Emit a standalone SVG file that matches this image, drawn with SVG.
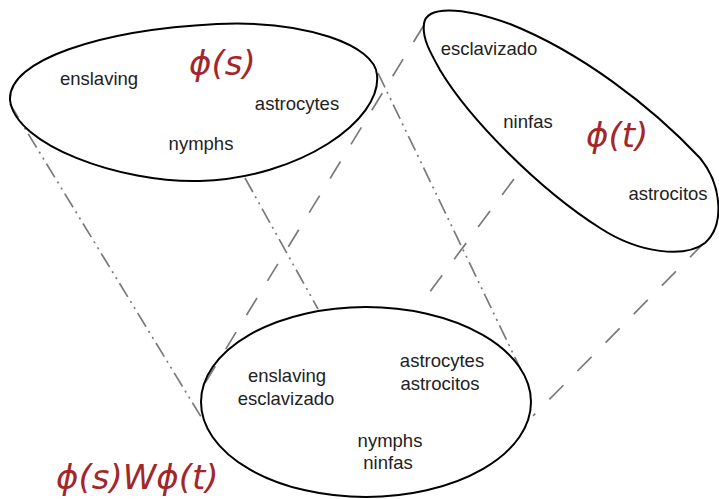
<svg xmlns="http://www.w3.org/2000/svg" width="719" height="499" viewBox="0 0 719 499">
  <style>
    .set { fill: none; stroke: #000000; stroke-width: 2; }
    .word { font-family: "Liberation Sans", Arial, sans-serif; font-size: 18.5px; fill: #222222; text-anchor: middle; }
    .math { font-family: "DejaVu Sans", sans-serif; font-style: oblique; font-size: 34px; fill: #a3262a; }
    .link { fill: none; stroke: #7a7a7a; stroke-width: 1.7; }
    .dashdot { stroke-dasharray: 16 5 2 5 2 5; }
    .dash { stroke-dasharray: 20 20; }
  </style>

  <!-- projection lines from the two word sets onto the joint set -->
  <g id="connectors">
    <line class="link dashdot" x1="10" y1="104" x2="203" y2="420"/>
    <line class="link dashdot" x1="245" y1="178" x2="318" y2="309"/>
    <line class="link dashdot" x1="378" y1="73" x2="521" y2="370"/>
    <line class="link dash" x1="424" y1="25" x2="205" y2="383"/>
    <line class="link dash" x1="514" y1="179" x2="420" y2="305"/>
    <line class="link dash" x1="704" y1="243" x2="533" y2="416"/>
  </g>

  <!-- English set -->
  <g id="set-s">
    <path class="set" d="M 10,100 C 8,60 100,30 217,24 C 305,20 375,45 377,75 C 382,120 300,178 200,181 C 120,183 15,145 10,100 Z"/>
    <text class="word" x="99" y="85">enslaving</text>
    <text class="word" x="297" y="110">astrocytes</text>
    <text class="word" x="201" y="150">nymphs</text>
    <text class="math" x="189" y="75">ϕ(s)</text>
  </g>

  <!-- Spanish set -->
  <g id="set-t">
    <path class="set" d="M 424,24 C 426,6 460,6 510,24 C 580,52 650,105 700,158 C 722,185 725,225 705,243 C 685,258 640,254 600,228 C 540,190 470,120 440,70 C 430,52 422,38 424,24 Z"/>
    <text class="word" x="489" y="55">esclavizado</text>
    <text class="word" x="528" y="128">ninfas</text>
    <text class="word" x="668" y="200">astrocitos</text>
    <text class="math" x="586" y="147">ϕ(t)</text>
  </g>

  <!-- joint set -->
  <g id="set-joint">
    <ellipse class="set" cx="366" cy="402" rx="165" ry="95"/>
    <text class="word" x="287" y="382">enslaving</text>
    <text class="word" x="286" y="405">esclavizado</text>
    <text class="word" x="442" y="367">astrocytes</text>
    <text class="word" x="440" y="390">astrocitos</text>
    <text class="word" x="390" y="447">nymphs</text>
    <text class="word" x="388" y="469">ninfas</text>
  </g>

  <g id="joint-label">
    <text class="math" x="56" y="489">ϕ(s)Wϕ(t)</text>
  </g>
</svg>
